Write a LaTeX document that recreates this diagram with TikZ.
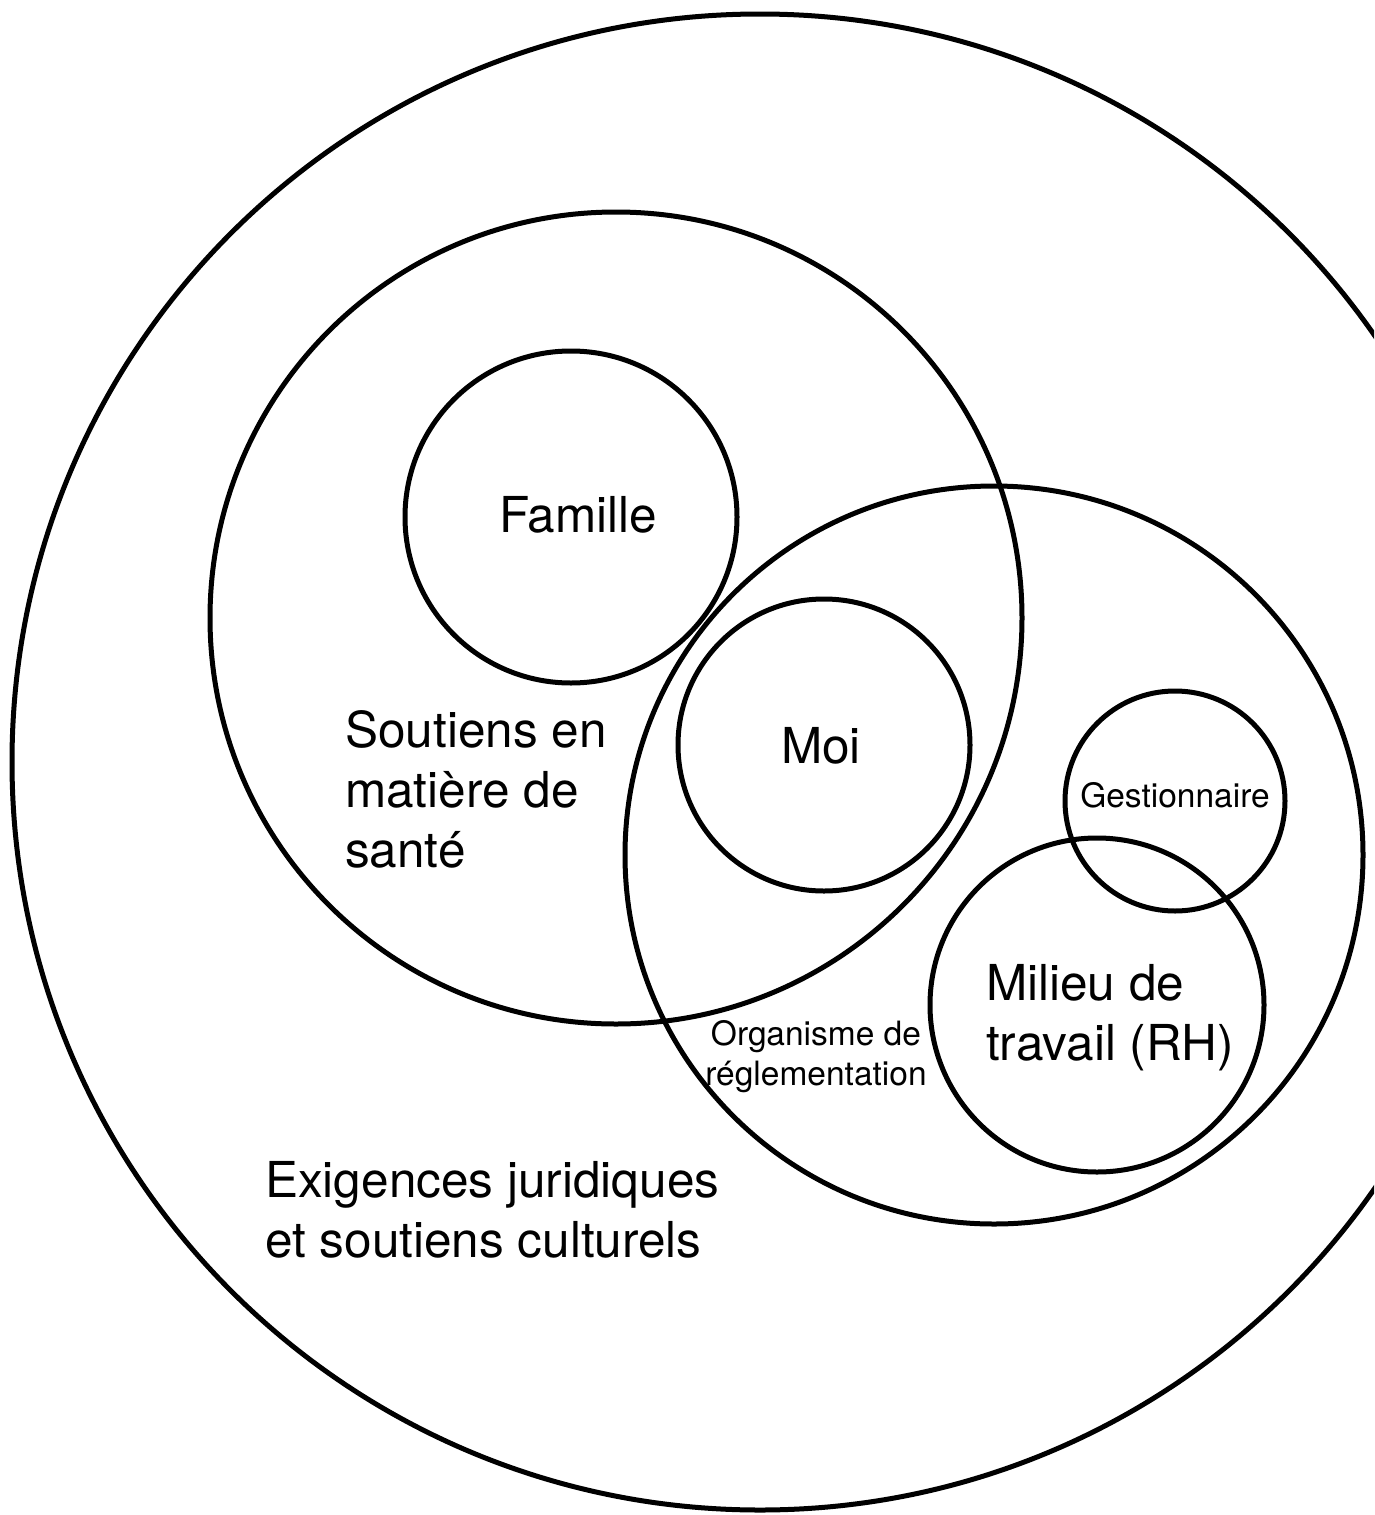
\documentclass[tikz,border=0pt]{standalone}
\usepackage{fontspec}
\setmainfont{TeX Gyre Heros}
\begin{document}
\begin{tikzpicture}[x=1pt,y=-1pt,
  ring/.style={line width=5pt, draw=black},
  bigtxt/.style={font=\fontsize{49.5}{60}\selectfont, inner sep=0pt, align=left},
  smalltxt/.style={font=\fontsize{33.5}{40}\selectfont, inner sep=0pt, align=center}]
\useasboundingbox (0,0) rectangle (1374,1515);
\fill[white] (0,0) rectangle (1374,1515);
\begin{scope}
\clip (0,0) rectangle (1374,1515);
\draw[ring] (760,762) circle (748);
\draw[ring] (616,618) circle (406);
\draw[ring] (571,517) circle (166);
\draw[ring] (824,745) circle (146);
\draw[ring] (994,855) circle (369);
\draw[ring] (1175,801) circle (110);
\draw[ring] (1097,1005) circle (167);
\end{scope}
\node[bigtxt, anchor=base] (famille) at (578,532) {Famille};
\node[bigtxt, anchor=base] (moi) at (821,763) {Moi};
\node[bigtxt, anchor=base west] (sante) at (345,867) {Soutiens en\\matière de\\santé};
\node[bigtxt, anchor=base west] (milieu) at (986,1060) {Milieu de\\travail (RH)};
\node[bigtxt, anchor=base west] (exig) at (265,1257) {Exigences juridiques\\et soutiens culturels};
\node[smalltxt, anchor=base] (gest) at (1175,807) {Gestionnaire};
\node[smalltxt, anchor=base] (org) at (816,1085) {Organisme de\\réglementation};
\end{tikzpicture}
\end{document}
